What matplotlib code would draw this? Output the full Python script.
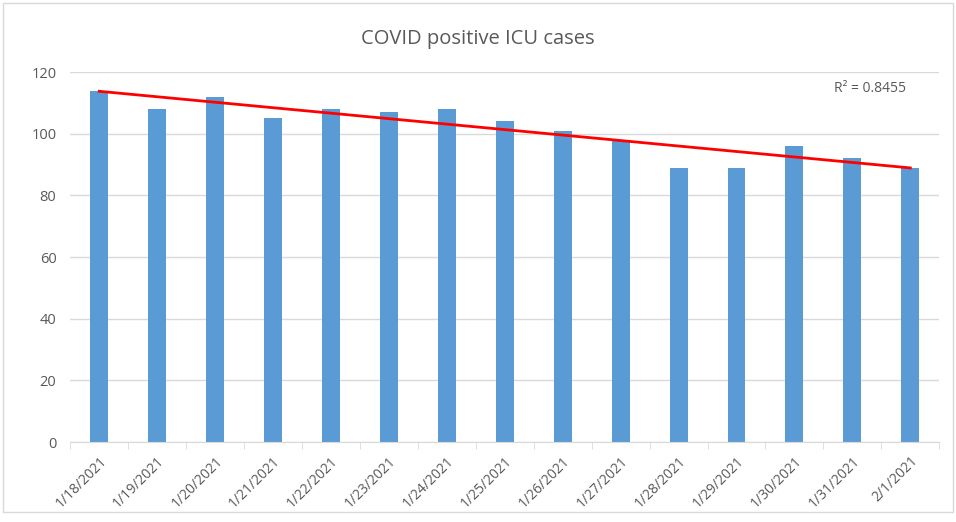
import numpy as np
import matplotlib.pyplot as plt
from matplotlib.patches import Rectangle

dates = ["1/18/2021", "1/19/2021", "1/20/2021", "1/21/2021", "1/22/2021",
         "1/23/2021", "1/24/2021", "1/25/2021", "1/26/2021", "1/27/2021",
         "1/28/2021", "1/29/2021", "1/30/2021", "1/31/2021", "2/1/2021"]
icu_cases = [114, 108, 112, 105, 108, 107, 108, 104, 101, 98, 89, 89, 96, 92, 89]
y_ticks = [0, 20, 40, 60, 80, 100, 120]

grey = "#595959"

fig = plt.figure(figsize=(9.56, 5.22), dpi=100)
ax = fig.add_axes([0.0735, 0.153, 0.909, 0.709])

x = np.arange(len(dates))
y = np.array(icu_cases)
ax.bar(x, y, width=0.31, color="#5b9bd5", zorder=2)

# linear trendline
m, b = np.polyfit(x, y, 1)
fit = m * x + b
r2 = 1 - np.sum((y - fit) ** 2) / np.sum((y - y.mean()) ** 2)
ax.plot([x[0], x[-1]], [fit[0], fit[-1]], color="#ff0000", lw=2, zorder=3)
ax.text(13.92, 114.5, "R² = %.4f" % r2, ha="right", va="center",
        fontsize=10, color=grey, family="Open Sans")

ax.set_xlim(-0.5, len(dates) - 0.5)
ax.set_ylim(0, 120)
ax.set_yticks(y_ticks)
ax.grid(axis="y", color="#d9d9d9", lw=1, zorder=0)
ax.set_xticks(x)
ax.set_xticklabels(dates, rotation=45, ha="right", rotation_mode="anchor")
ax.set_xticks(np.arange(-0.5, len(dates), 1.0), minor=True)
ax.tick_params(axis="x", which="major", length=0, pad=8, labelsize=10, labelcolor=grey)
ax.tick_params(axis="x", which="minor", length=5, color="#d9d9d9")
ax.tick_params(axis="y", length=0, labelsize=10.5, labelcolor=grey, pad=10)
for lbl in ax.get_xticklabels() + ax.get_yticklabels():
    lbl.set_family("Open Sans")

for s in ["top", "right", "left"]:
    ax.spines[s].set_visible(False)
ax.spines["bottom"].set_color("#d9d9d9")

fig.text(0.5, 0.925, "COVID positive ICU cases", ha="center", va="center",
         fontsize=14.5, color=grey, family="Open Sans")

fig.patches.append(Rectangle((0.003, 0.02), 0.994, 0.975, transform=fig.transFigure,
                             fill=False, edgecolor="#d9d9d9", lw=1))

fig.savefig("out.png", dpi=100)
